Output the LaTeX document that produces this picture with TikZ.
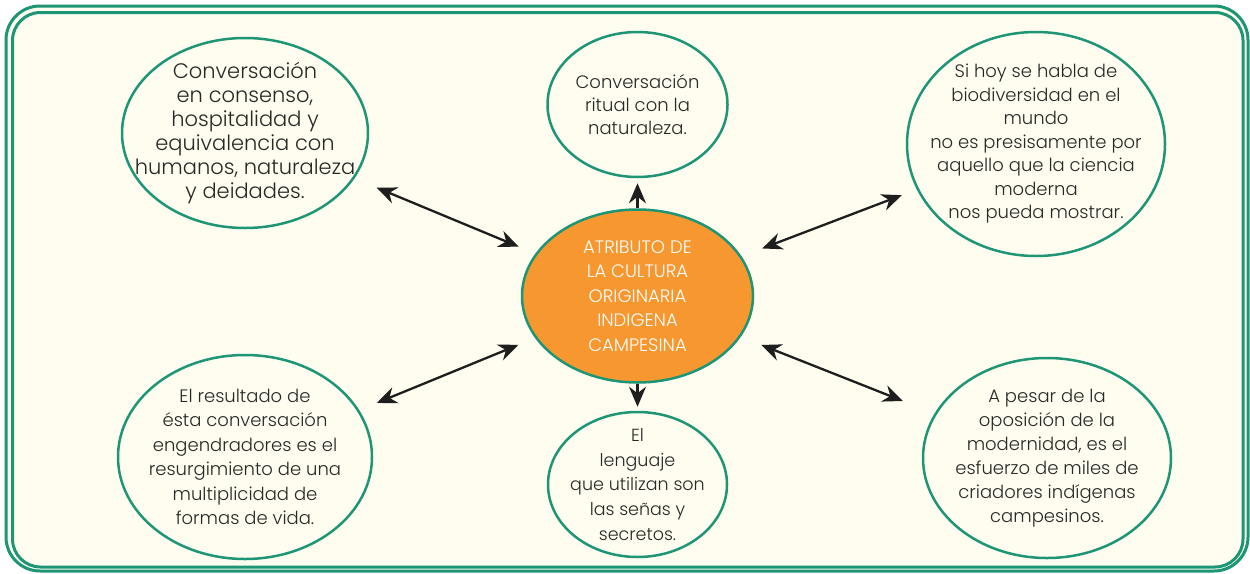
\documentclass[tikz,border=0pt]{standalone}
\usepackage{fontspec}
\setmainfont{Poppins}
\newfontfamily\lightfont{Poppins Light}
\usetikzlibrary{shapes.geometric,arrows.meta}
\definecolor{teal1}{RGB}{30,150,118}
\definecolor{cream}{RGB}{254,253,240}
\definecolor{orng}{RGB}{247,151,47}
\definecolor{txt}{RGB}{40,40,40}
\definecolor{arr}{RGB}{30,30,30}
\tikzset{
  bubble/.style={ellipse, draw=teal1, line width=2.5pt, fill=cream, inner sep=0pt},
  hub/.style={ellipse, draw=teal1, line width=2.5pt, fill=orng, inner sep=0pt},
  btext/.style={align=center, text=txt, inner sep=0pt, font=\lightfont\fontsize{18}{23.5}\selectfont},
  htext/.style={align=center, text=white, inner sep=0pt, font=\lightfont\fontsize{18}{24.5}\selectfont},
  frame/.style={draw=teal1, line width=3pt},
  link/.style={line width=2.3pt, draw=arr,
    {Stealth[length=20pt,width=17pt]}-{Stealth[length=20pt,width=17pt]}},
  onelink/.style={line width=2.3pt, draw=arr,
    -{Stealth[length=20pt,width=17pt]}}
}
\begin{document}
\begin{tikzpicture}[x=1pt,y=-1pt]
\useasboundingbox[fill=white] (0,0) rectangle (1250,573);
\draw[frame, fill=cream, rounded corners=34pt] (6,6) rectangle (1248,571);
\draw[frame, rounded corners=28pt] (12.5,12.5) rectangle (1243,567);

\node[hub, minimum width=231pt, minimum height=173pt] (c) at (637.5,296) {};
\node[htext] (ctx) at (c) {ATRIBUTO DE\\LA CULTURA\\ORIGINARIA\\INDIGENA\\CAMPESINA};

\node[bubble, minimum width=246pt, minimum height=190pt] (tl) at (245,133) {};
\node[btext, font=\lightfont\fontsize{21}{24}\selectfont] (tltx) at (tl)
  {Conversación\\en consenso,\\hospitalidad y\\equivalencia con\\humanos, naturaleza\\y deidades.};

\node[bubble, minimum width=180pt, minimum height=145pt] (t) at (637.5,104.5) {};
\node[btext, font=\lightfont\fontsize{18}{23}\selectfont] (ttx) at (t)
  {Conversación\\ritual con la\\naturaleza.};

\node[bubble, minimum width=258pt, minimum height=224pt] (tr) at (1036,144) {};
\node[btext] (trtx) at (tr)
  {Si hoy se habla de\\biodiversidad en el\\mundo\\no es presisamente por\\aquello que la ciencia\\moderna\\nos pueda mostrar.};

\node[bubble, minimum width=254pt, minimum height=204pt] (bl) at (245,457) {};
\node[btext, font=\lightfont\fontsize{18}{24.5}\selectfont] (bltx) at (bl)
  {El resultado de\\ésta conversación\\engendradores es el\\resurgimiento de una\\multiplicidad de\\formas de vida.};

\node[bubble, minimum width=179pt, minimum height=145pt] (b) at (637.5,484.5) {};
\node[btext, font=\lightfont\fontsize{17.5}{24.7}\selectfont] (btx) at (b)
  {El\\lenguaje\\que utilizan son\\las señas y\\secretos.};

\node[bubble, minimum width=248pt, minimum height=200pt] (br) at (1047,458) {};
\node[btext, font=\lightfont\fontsize{18}{24}\selectfont] (brtx) at (br)
  {A pesar de la\\oposición de la\\modernidad, es el\\esfuerzo de miles de\\criadores indígenas\\campesinos.};

\draw[link, shorten <=18pt, shorten >=24pt] (c) -- (tl);
\draw[link, shorten <=22pt, shorten >=16pt] (c) -- (tr);
\draw[link, shorten <=18pt, shorten >=19pt] (c) -- (bl);
\draw[link, shorten <=22pt, shorten >=34pt] (c) -- (br);
\draw[onelink, shorten >=5pt] (c) -- (t);
\draw[onelink, shorten >=4pt] (c) -- (b);
\end{tikzpicture}
\end{document}
